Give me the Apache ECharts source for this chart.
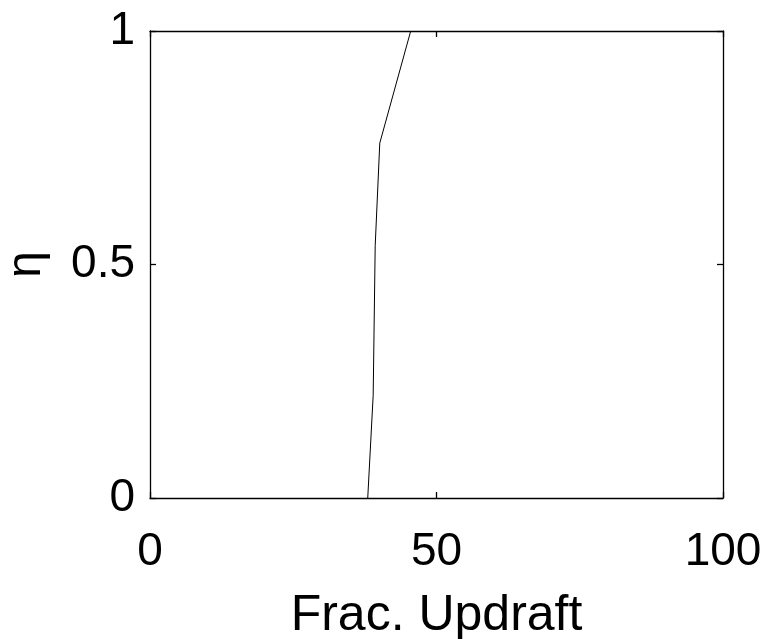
<!DOCTYPE html>
<html>
<head>
<meta charset="utf-8">
<script src="https://cdn.jsdelivr.net/npm/echarts@6/dist/echarts.min.js"></script>
<style>
html,body{margin:0;padding:0;background:#fff;}
#c{width:769px;height:639px;}
</style>
</head>
<body>
<div id="c"></div>
<script>
var etaValues = [0, 0.22, 0.54, 0.76, 1];
var fracUpdraft = [38.0, 38.95, 39.3, 40.1, 45.5];
var xTickLabels = ['0', '50', '100'];
var yTickLabels = ['0', '0.5', '1'];
var xAxisTitle = 'Frac. Updraft';
var yAxisTitle = 'η';

var seriesData = etaValues.map(function (e, i) { return [fracUpdraft[i], e]; });
var font = 'Liberation Sans, Arial, Helvetica, sans-serif';
var axisLineStyle = { color: '#000', width: 1.3 };

var chart = echarts.init(document.getElementById('c'), null, { renderer: 'canvas' });
chart.setOption({
  animation: false,
  backgroundColor: '#fff',
  grid: { left: 150, right: 46, top: 31, bottom: 141, containLabel: false, outerBoundsMode: 'none' },
  xAxis: [{
    type: 'value', min: 0, max: 100, interval: 50, position: 'bottom',
    axisLine: { show: true, onZero: false, lineStyle: axisLineStyle },
    axisTick: { show: true, inside: true, length: 6, lineStyle: axisLineStyle },
    splitLine: { show: false },
    axisLabel: { color: '#000', fontSize: 46, fontFamily: font, margin: 31,
      formatter: function (v) { return xTickLabels[Math.round(v / 50)]; } },
    name: xAxisTitle, nameLocation: 'middle', nameGap: 93,
    nameTextStyle: { color: '#000', fontSize: 50, fontFamily: font }
  }, {
    type: 'value', min: 0, max: 100, interval: 50, position: 'top',
    axisLine: { show: true, onZero: false, lineStyle: axisLineStyle },
    axisTick: { show: true, inside: true, length: 6, lineStyle: axisLineStyle },
    splitLine: { show: false }, axisLabel: { show: false }
  }],
  yAxis: [{
    type: 'value', min: 0, max: 1, interval: 0.5, position: 'left',
    axisLine: { show: true, onZero: false, lineStyle: axisLineStyle },
    axisTick: { show: true, inside: true, length: 6, lineStyle: axisLineStyle },
    splitLine: { show: false },
    axisLabel: { color: '#000', fontSize: 46, fontFamily: font, margin: 15,
      formatter: function (v) { return yTickLabels[Math.round(v / 0.5)]; } },
    name: yAxisTitle, nameLocation: 'middle', nameGap: 99, nameRotate: 90,
    nameTextStyle: { color: '#000', fontSize: 48, fontFamily: font }
  }, {
    type: 'value', min: 0, max: 1, interval: 0.5, position: 'right',
    axisLine: { show: true, onZero: false, lineStyle: axisLineStyle },
    axisTick: { show: true, inside: true, length: 6, lineStyle: axisLineStyle },
    splitLine: { show: false }, axisLabel: { show: false }
  }],
  series: [{
    type: 'line', data: seriesData, xAxisIndex: 0, yAxisIndex: 0,
    symbol: 'none', smooth: false,
    lineStyle: { color: '#000', width: 1 }
  }]
});
</script>
</body>
</html>
